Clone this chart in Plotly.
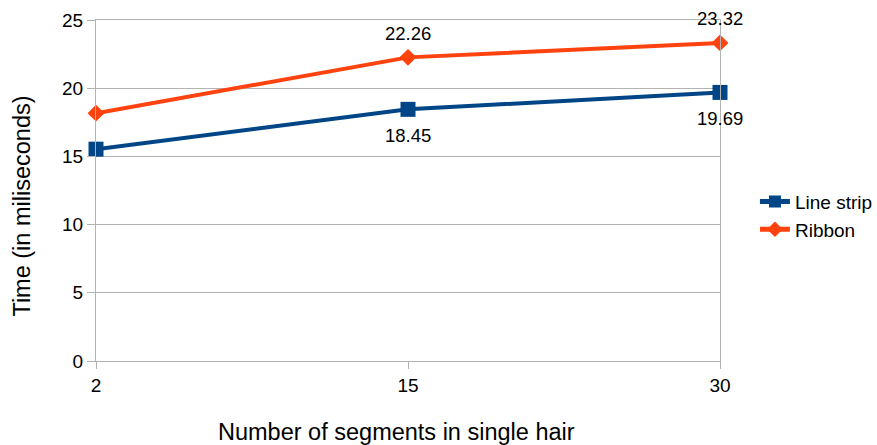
import plotly.graph_objects as go

categories = ["2", "15", "30"]
line_strip = [15.53, 18.45, 19.69]
ribbon = [18.17, 22.26, 23.32]
line_strip_labels = ["", "18.45", "19.69"]
ribbon_labels = ["", "22.26", "23.32"]

FONT = "Liberation Sans, Arial, sans-serif"
GRID = "#b3b3b3"

fig = go.Figure()
fig.add_trace(go.Scatter(
    x=categories, y=line_strip, name="Line strip",
    mode="lines+markers",
    line=dict(color="#004586", width=4),
    marker=dict(symbol="square", size=15, color="#004586"),
    cliponaxis=False,
))
fig.add_trace(go.Scatter(
    x=categories, y=ribbon, name="Ribbon",
    mode="lines+markers",
    line=dict(color="#ff420e", width=4),
    marker=dict(symbol="diamond", size=13, color="#ff420e"),
    cliponaxis=False,
))

# value labels: ribbon above its points, line strip below
# (category axis: annotations are placed by category index)
annotations = []
for i, (val, lab) in enumerate(zip(ribbon, ribbon_labels)):
    if lab:
        annotations.append(dict(x=i, y=val, text=lab, showarrow=False,
                                yshift=24, font=dict(size=18.5)))
for i, (val, lab) in enumerate(zip(line_strip, line_strip_labels)):
    if lab:
        annotations.append(dict(x=i, y=val, text=lab, showarrow=False,
                                yshift=-26, font=dict(size=18.5)))

# axis titles
annotations.append(dict(text="Number of segments in single hair", xref="paper", yref="paper",
                        x=0.482, y=-0.207, xanchor="center", yanchor="middle",
                        showarrow=False, font=dict(size=23.5)))
annotations.append(dict(text="Time (in miliseconds)", xref="paper", yref="paper",
                        x=-0.119, y=0.455, xanchor="center", yanchor="middle",
                        textangle=-90, showarrow=False, font=dict(size=23.5)))

fig.update_layout(
    width=877, height=445,
    margin=dict(l=96, r=157, t=20, b=83.5, autoexpand=False),
    paper_bgcolor="white", plot_bgcolor="white",
    font=dict(family=FONT, size=19, color="#000000"),
    showlegend=True,
    legend=dict(x=1.056, y=0.426, xanchor="left", yanchor="middle",
                font=dict(size=19), itemwidth=30, tracegroupgap=0,
                itemsizing="constant", borderwidth=0),
    annotations=annotations,
    xaxis=dict(
        type="category", range=[0, 2],
        showgrid=False, showline=True, linecolor=GRID, linewidth=1, mirror=True,
        ticks="outside", ticklen=7, tickcolor=GRID,
        tickfont=dict(size=19),
    ),
    yaxis=dict(
        range=[0, 25], dtick=5,
        showgrid=True, gridcolor=GRID, gridwidth=1,
        showline=True, linecolor=GRID, linewidth=1, mirror=True,
        ticks="outside", ticklen=8, tickcolor=GRID,
        tickfont=dict(size=19), zeroline=False,
    ),
)

fig.write_html("out.html")
